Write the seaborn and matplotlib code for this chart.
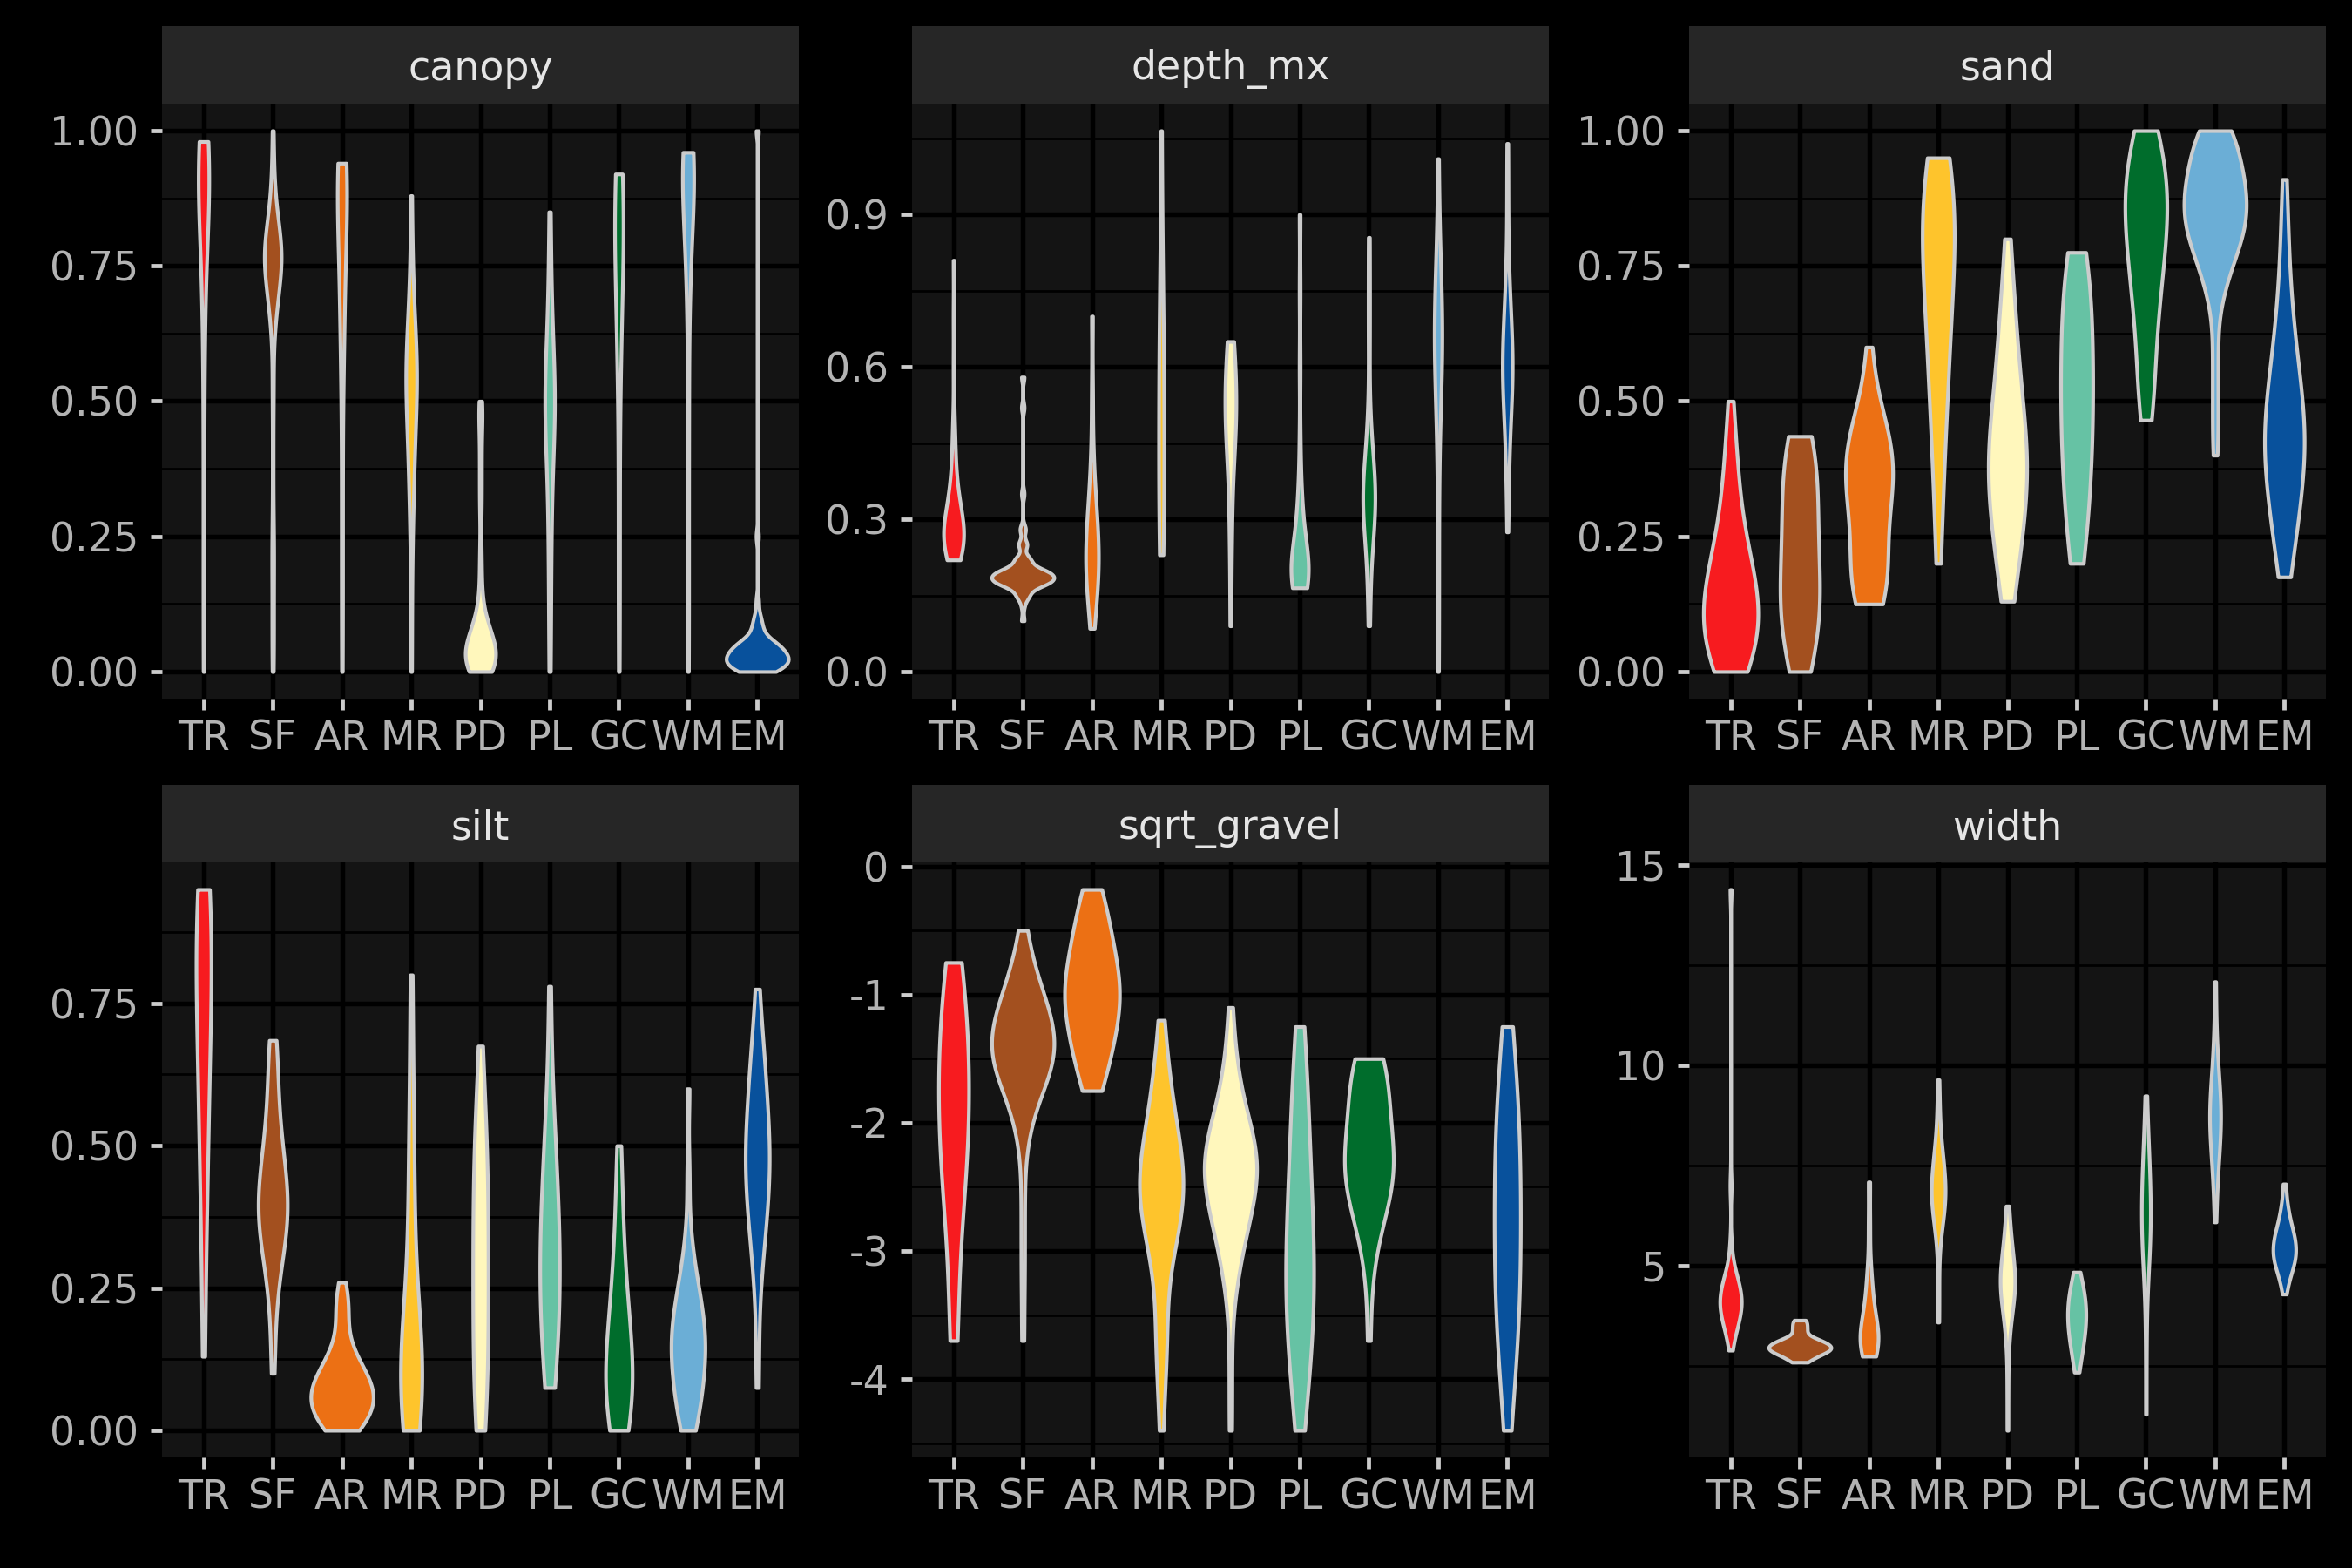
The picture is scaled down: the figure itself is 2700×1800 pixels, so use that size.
import numpy as np
import pandas as pd
import matplotlib
matplotlib.use("Agg")
import matplotlib.pyplot as plt
import seaborn as sns
from matplotlib.patches import Rectangle
from matplotlib.ticker import FixedLocator, FormatStrFormatter

# categorias y colores
cats = ["TR", "SF", "AR", "MR", "PD", "PL", "GC", "WM", "EM"]
colores = ["#F71B1F", "#A3501F", "#EC7014", "#FEC42C", "#FFF7BC",
           "#66C2A4", "#006D2C", "#6BAED6", "#08519C"]

# valores (valor -> cuantas observaciones)
canopy_vals = {
    "TR": [0.0, 0.1, 0.2, 0.3, 0.4, 0.5, 0.6, 0.7, 0.8, 0.85, 0.9, 0.95, 0.98],
    "SF": [0.0, 0.05, 0.1, 0.15, 0.22, 0.3, 0.4, 0.5, 0.55, 0.65, 0.7, 0.75, 0.78, 0.82, 0.88, 0.95, 1.0],
    "AR": [0.0, 0.1, 0.2, 0.3, 0.4, 0.5, 0.6, 0.65, 0.75, 0.85, 0.9, 0.94],
    "MR": [0.0, 0.1, 0.2, 0.3, 0.4, 0.5, 0.55, 0.6, 0.7, 0.8, 0.88],
    "PD": [0.0, 0.02, 0.04, 0.06, 0.08, 0.1, 0.13, 0.17, 0.22, 0.3, 0.35, 0.4, 0.45, 0.48, 0.5],
    "PL": [0.0, 0.1, 0.2, 0.25, 0.35, 0.45, 0.5, 0.55, 0.65, 0.75, 0.85],
    "GC": [0.0, 0.1, 0.2, 0.3, 0.4, 0.5, 0.6, 0.65, 0.75, 0.82, 0.88, 0.92],
    "WM": [0.0, 0.1, 0.2, 0.3, 0.4, 0.5, 0.55, 0.7, 0.8, 0.88, 0.93, 0.96],
    "EM": [0.0, 0.01, 0.02, 0.03, 0.04, 0.05, 0.06, 0.08, 0.1, 0.13, 0.25, 1.0],
}
canopy_n = {
    "TR": [1, 1, 1, 1, 1, 1, 2, 3, 4, 5, 6, 7, 7],
    "SF": [1, 1, 1, 1, 2, 1, 1, 1, 1, 3, 6, 9, 9, 6, 3, 1, 1],
    "AR": [1, 1, 1, 1, 1, 1, 2, 3, 4, 5, 6, 7],
    "MR": [1, 1, 1, 3, 5, 6, 6, 6, 3, 1, 1],
    "PD": [6, 8, 7, 5, 3, 2, 1, 1, 1, 1, 1, 1, 1, 1, 1],
    "PL": [1, 1, 1, 1, 2, 3, 4, 3, 2, 1, 1],
    "GC": [1, 1, 1, 1, 1, 1, 2, 3, 4, 5, 5, 4],
    "WM": [1, 1, 1, 1, 1, 1, 1, 3, 4, 6, 7, 8],
    "EM": [6, 8, 9, 8, 7, 6, 4, 3, 2, 1, 1, 1],
}

depth_vals = {
    "TR": [0.22, 0.24, 0.26, 0.28, 0.3, 0.33, 0.36, 0.4, 0.45, 0.5, 0.6, 0.7, 0.81],
    "SF": [0.1, 0.13, 0.15, 0.17, 0.18, 0.19, 0.2, 0.22, 0.25, 0.28, 0.35, 0.52, 0.58],
    "AR": [0.085, 0.12, 0.16, 0.2, 0.24, 0.28, 0.32, 0.38, 0.45, 0.55, 0.7],
    "MR": [0.23, 0.3, 0.4, 0.5, 0.6, 0.7, 0.8, 0.9, 1.065],
    "PD": [0.09, 0.2, 0.3, 0.4, 0.45, 0.5, 0.55, 0.6, 0.65],
    "PL": [0.165, 0.18, 0.2, 0.22, 0.25, 0.3, 0.35, 0.45, 0.6, 0.75, 0.9],
    "GC": [0.09, 0.15, 0.22, 0.28, 0.32, 0.36, 0.4, 0.45, 0.52, 0.65, 0.75, 0.855],
    "WM": [0.0, 0.1, 0.2, 0.3, 0.4, 0.5, 0.58, 0.64, 0.68, 0.74, 0.8, 0.9, 1.01],
    "EM": [0.275, 0.35, 0.42, 0.5, 0.56, 0.6, 0.64, 0.7, 0.76, 0.85, 0.95, 1.04],
}
depth_n = {
    "TR": [4, 5, 6, 6, 5, 4, 3, 2, 2, 1, 1, 1, 1],
    "SF": [1, 1, 4, 8, 10, 10, 8, 5, 3, 2, 1, 1, 1],
    "AR": [1, 2, 3, 4, 4, 3, 3, 2, 1, 1, 1],
    "MR": [3, 3, 3, 3, 3, 3, 1, 1, 1],
    "PD": [1, 1, 2, 2, 3, 4, 4, 3, 3],
    "PL": [4, 4, 4, 4, 3, 2, 2, 1, 1, 1, 1],
    "GC": [1, 1, 2, 3, 4, 4, 3, 2, 1, 1, 1, 1],
    "WM": [1, 1, 1, 1, 1, 2, 3, 4, 4, 3, 2, 1, 1],
    "EM": [1, 1, 2, 3, 4, 4, 4, 3, 2, 1, 1, 1],
}

sand_vals = {
    "TR": [0.0, 0.05, 0.1, 0.15, 0.2, 0.25, 0.3, 0.35, 0.4, 0.45, 0.5],
    "SF": [0.0, 0.05, 0.1, 0.15, 0.2, 0.25, 0.3, 0.35, 0.4, 0.435],
    "AR": [0.125, 0.15, 0.18, 0.22, 0.26, 0.3, 0.34, 0.38, 0.42, 0.46, 0.52, 0.6],
    "MR": [0.2, 0.25, 0.3, 0.35, 0.4, 0.45, 0.5, 0.55, 0.6, 0.65, 0.7, 0.75, 0.8, 0.85, 0.9, 0.95],
    "PD": [0.13, 0.15, 0.2, 0.25, 0.3, 0.35, 0.4, 0.45, 0.5, 0.55, 0.6, 0.65, 0.7, 0.75, 0.8],
    "PL": [0.2, 0.25, 0.3, 0.35, 0.4, 0.45, 0.5, 0.55, 0.6, 0.65, 0.7, 0.75, 0.775],
    "GC": [0.465, 0.5, 0.55, 0.6, 0.65, 0.7, 0.75, 0.8, 0.85, 0.9, 0.95, 1.0],
    "WM": [0.4, 0.45, 0.5, 0.55, 0.6, 0.65, 0.7, 0.75, 0.8, 0.85, 0.9, 0.95, 1.0],
    "EM": [0.175, 0.2, 0.25, 0.3, 0.35, 0.4, 0.45, 0.5, 0.55, 0.6, 0.65, 0.7, 0.75, 0.8, 0.85, 0.91],
}
sand_n = {
    "TR": [6, 8, 9, 8, 6, 4, 3, 2, 2, 1, 1],
    "SF": [3, 4, 5, 5, 4, 4, 4, 4, 4, 3],
    "AR": [3, 4, 4, 3, 3, 4, 5, 6, 5, 4, 2, 1],
    "MR": [1, 1, 1, 1, 2, 2, 2, 3, 3, 3, 4, 4, 5, 5, 5, 5],
    "PD": [1, 2, 3, 4, 5, 6, 6, 5, 4, 3, 3, 2, 2, 1, 1],
    "PL": [3, 3, 4, 4, 5, 5, 5, 5, 5, 5, 4, 4, 3],
    "GC": [2, 3, 3, 3, 4, 5, 6, 7, 8, 8, 7, 5],
    "WM": [1, 1, 1, 1, 1, 1, 3, 6, 10, 12, 11, 9, 7],
    "EM": [1, 2, 3, 4, 5, 6, 6, 5, 4, 3, 2, 2, 1, 1, 1, 1],
}

silt_vals = {
    "TR": [0.13, 0.2, 0.3, 0.4, 0.5, 0.6, 0.7, 0.8, 0.9, 0.95],
    "SF": [0.1, 0.15, 0.2, 0.25, 0.3, 0.35, 0.4, 0.45, 0.5, 0.55, 0.6, 0.65, 0.685],
    "AR": [0.0, 0.02, 0.04, 0.06, 0.08, 0.1, 0.12, 0.14, 0.16, 0.18, 0.2, 0.22, 0.24, 0.26],
    "MR": [0.0, 0.05, 0.1, 0.15, 0.2, 0.3, 0.4, 0.5, 0.6, 0.7, 0.8],
    "PD": [0.0, 0.05, 0.1, 0.15, 0.2, 0.25, 0.3, 0.35, 0.4, 0.45, 0.5, 0.55, 0.6, 0.675],
    "PL": [0.075, 0.1, 0.15, 0.2, 0.25, 0.3, 0.35, 0.4, 0.45, 0.5, 0.55, 0.6, 0.7, 0.78],
    "GC": [0.0, 0.05, 0.1, 0.15, 0.2, 0.25, 0.3, 0.35, 0.4, 0.45, 0.5],
    "WM": [0.0, 0.05, 0.1, 0.15, 0.2, 0.25, 0.3, 0.35, 0.45, 0.6],
    "EM": [0.075, 0.15, 0.25, 0.3, 0.35, 0.4, 0.45, 0.5, 0.55, 0.6, 0.65, 0.7, 0.775],
}
silt_n = {
    "TR": [1, 1, 1, 2, 3, 3, 4, 5, 5, 4],
    "SF": [1, 1, 1, 2, 4, 7, 8, 6, 4, 3, 2, 2, 2],
    "AR": [6, 8, 9, 10, 9, 7, 5, 3, 2, 1, 2, 2, 2, 1],
    "MR": [4, 5, 5, 4, 3, 2, 2, 2, 1, 1, 1],
    "PD": [3, 3, 3, 3, 3, 3, 3, 3, 3, 3, 3, 2, 2, 1],
    "PL": [2, 2, 3, 4, 4, 4, 4, 3, 3, 2, 2, 1, 1, 1],
    "GC": [4, 5, 5, 4, 3, 2, 2, 1, 1, 1, 1],
    "WM": [3, 5, 6, 7, 6, 4, 2, 1, 1, 1],
    "EM": [1, 1, 1, 2, 3, 4, 5, 5, 4, 3, 3, 2, 1],
}

gravel_vals = {
    "TR": [-3.7, -3.5, -3.3, -3.0, -2.75, -2.5, -2.25, -2.0, -1.75, -1.5, -1.25, -1.0, -0.75],
    "SF": [-3.7, -3.3, -3.0, -2.7, -2.4, -2.1, -1.9, -1.7, -1.55, -1.4, -1.25, -1.1, -0.95, -0.8, -0.65, -0.5],
    "AR": [-1.75, -1.6, -1.45, -1.3, -1.15, -1.0, -0.85, -0.7, -0.55, -0.4, -0.25, -0.18],
    "MR": [-4.4, -4.1, -3.8, -3.6, -3.4, -3.1, -2.9, -2.7, -2.5, -2.3, -2.1, -1.9, -1.7, -1.5, -1.2],
    "PD": [-4.4, -4.0, -3.6, -3.3, -3.1, -2.9, -2.7, -2.5, -2.3, -2.1, -1.9, -1.7, -1.5, -1.3, -1.1],
    "PL": [-4.4, -4.2, -4.0, -3.75, -3.5, -3.25, -3.0, -2.75, -2.5, -2.25, -2.0, -1.75, -1.5, -1.25],
    "GC": [-3.7, -3.3, -3.0, -2.8, -2.6, -2.4, -2.2, -2.0, -1.8, -1.6, -1.5],
    "WM": [],
    "EM": [-4.4, -4.1, -3.8, -3.5, -3.2, -2.9, -2.6, -2.3, -2.0, -1.7, -1.4, -1.25],
}
gravel_n = {
    "TR": [3, 1, 1, 2, 3, 4, 5, 5, 6, 5, 5, 4, 4],
    "SF": [1, 1, 1, 1, 1, 2, 4, 7, 9, 10, 9, 7, 5, 3, 2, 1],
    "AR": [3, 4, 5, 6, 7, 8, 7, 6, 5, 4, 3, 2],
    "MR": [1, 1, 2, 2, 1, 2, 4, 6, 7, 6, 4, 3, 2, 2, 1],
    "PD": [1, 1, 1, 2, 3, 5, 7, 9, 10, 8, 5, 3, 2, 1, 1],
    "PL": [1, 2, 3, 4, 5, 5, 5, 4, 4, 3, 3, 3, 2, 2],
    "GC": [1, 1, 2, 3, 6, 8, 7, 5, 5, 5, 4],
    "WM": [],
    "EM": [1, 2, 3, 4, 4, 4, 4, 4, 4, 3, 2, 1],
}

width_vals = {
    "TR": [2.9, 3.2, 3.5, 3.8, 4.1, 4.4, 4.7, 5.0, 5.5, 7.0, 14.4],
    "SF": [2.6, 2.7, 2.8, 2.9, 3.0, 3.1, 3.2, 3.4, 3.55, 3.65],
    "AR": [2.75, 3.0, 3.3, 3.6, 4.0, 4.5, 5.0, 6.0, 7.1],
    "MR": [3.6, 4.5, 5.5, 6.0, 6.4, 6.8, 7.2, 7.6, 8.0, 8.5, 9.0, 9.65],
    "PD": [0.9, 2.0, 3.0, 3.5, 4.0, 4.3, 4.6, 4.9, 5.2, 5.6, 6.0, 6.5],
    "PL": [2.35, 2.6, 2.9, 3.2, 3.5, 3.8, 4.1, 4.4, 4.7, 4.85],
    "GC": [1.3, 3.0, 4.3, 5.0, 5.5, 6.0, 6.5, 7.0, 7.5, 8.0, 8.6, 9.25],
    "WM": [6.1, 6.8, 7.4, 8.0, 8.5, 9.0, 9.5, 10.2, 11.0, 12.1],
    "EM": [4.3, 4.6, 4.9, 5.2, 5.5, 5.8, 6.1, 6.4, 6.7, 7.05],
}
width_n = {
    "TR": [1, 2, 4, 6, 7, 6, 4, 2, 1, 1, 1],
    "SF": [2, 3, 5, 8, 8, 6, 4, 3, 2, 2],
    "AR": [3, 4, 4, 3, 2, 2, 1, 1, 1],
    "MR": [1, 1, 1, 2, 4, 5, 4, 3, 2, 1, 1, 1],
    "PD": [1, 1, 1, 2, 3, 4, 4, 4, 3, 2, 2, 1],
    "PL": [1, 2, 3, 4, 5, 5, 5, 4, 2, 1],
    "GC": [1, 1, 1, 2, 3, 3, 3, 3, 2, 2, 1, 1],
    "WM": [1, 1, 2, 3, 4, 4, 3, 2, 1, 1],
    "EM": [1, 2, 4, 6, 6, 5, 3, 2, 1, 1],
}

paneles = [
    ("canopy", canopy_vals, canopy_n, [0, 0.25, 0.5, 0.75, 1.0], "%.2f"),
    ("depth_mx", depth_vals, depth_n, [0, 0.3, 0.6, 0.9], "%.1f"),
    ("sand", sand_vals, sand_n, [0, 0.25, 0.5, 0.75, 1.0], "%.2f"),
    ("silt", silt_vals, silt_n, [0, 0.25, 0.5, 0.75], "%.2f"),
    ("sqrt_gravel", gravel_vals, gravel_n, [-4, -3, -2, -1, 0], "%d"),
    ("width", width_vals, width_n, [5, 10, 15], "%d"),
]


def bw_nrd0(kde):
    # ancho de banda tipo R (bw.nrd0)
    x = kde.dataset[0]
    sd = x.std(ddof=1)
    q75, q25 = np.percentile(x, [75, 25])
    lo = min(sd, (q75 - q25) / 1.34)
    if lo <= 0:
        lo = sd if sd > 0 else 1.0
    h = 0.9 * lo * len(x) ** -0.2
    return h / sd


plt.rcParams["axes.unicode_minus"] = False
plt.rcParams["font.family"] = ["DejaVu Sans"]

fig = plt.figure(figsize=(9, 6), dpi=300, facecolor="black")
W, H = 2700, 1800
lefts = [186, 1047, 1939]
tops = [119, 990]
pw, ph = 731, 683
strip_h = 89

for i, (nombre, vals, cnt, ticks, fmt) in enumerate(paneles):
    fila, col = divmod(i, 3)
    ax = fig.add_axes([lefts[col] / W, 1 - (tops[fila] + ph) / H, pw / W, ph / H])

    filas = []
    for c in cats:
        for v, n in zip(vals[c], cnt[c]):
            filas += [(c, v)] * n
    df = pd.DataFrame(filas, columns=["cat", "valor"])

    sns.violinplot(data=df, x="cat", y="valor", hue="cat", order=cats, hue_order=cats,
                   palette=colores, saturation=1, legend=False, cut=0,
                   density_norm="area", common_norm=True, bw_method=bw_nrd0,
                   bw_adjust=1.3, inner=None, width=0.9, linewidth=1.0,
                   linecolor="#CCCCCC", gridsize=300, joinstyle="round", ax=ax)

    lo, hi = df["valor"].min(), df["valor"].max()
    pad = 0.05 * (hi - lo)
    ax.set_ylim(lo - pad, hi + pad)
    ax.set_xlim(-0.6, len(cats) - 0.4)

    paso = ticks[1] - ticks[0]
    ax.yaxis.set_major_locator(FixedLocator(ticks))
    ax.yaxis.set_minor_locator(FixedLocator(np.arange(ticks[0] - paso / 2, ticks[-1] + paso, paso)))
    ax.yaxis.set_major_formatter(FormatStrFormatter(fmt))

    ax.set_facecolor("#141414")
    for s in ax.spines.values():
        s.set_visible(False)
    ax.set_axisbelow(True)
    ax.grid(which="major", color="black", linewidth=1.3)
    ax.grid(which="minor", axis="y", color="black", linewidth=0.65)
    ax.tick_params(which="major", length=3.2, width=1.15, color="#CCCCCC",
                   labelcolor="#B3B3B3", labelsize=11)
    ax.tick_params(axis="x", pad=2.5)
    ax.tick_params(axis="y", pad=3.2)
    ax.tick_params(which="minor", length=0)
    ax.set_xlabel("")
    ax.set_ylabel("")

    # franja del titulo (strip)
    sh = strip_h / ph
    ax.add_patch(Rectangle((0, 1), 1, sh, transform=ax.transAxes, clip_on=False,
                           facecolor="#262626", edgecolor="none"))
    ax.text(0.5, 1 + sh / 2 - 5 / ph, nombre, transform=ax.transAxes, ha="center",
            va="center", fontsize=11, color="#E5E5E5")

fig.savefig("out.png", dpi=300, facecolor="black")
